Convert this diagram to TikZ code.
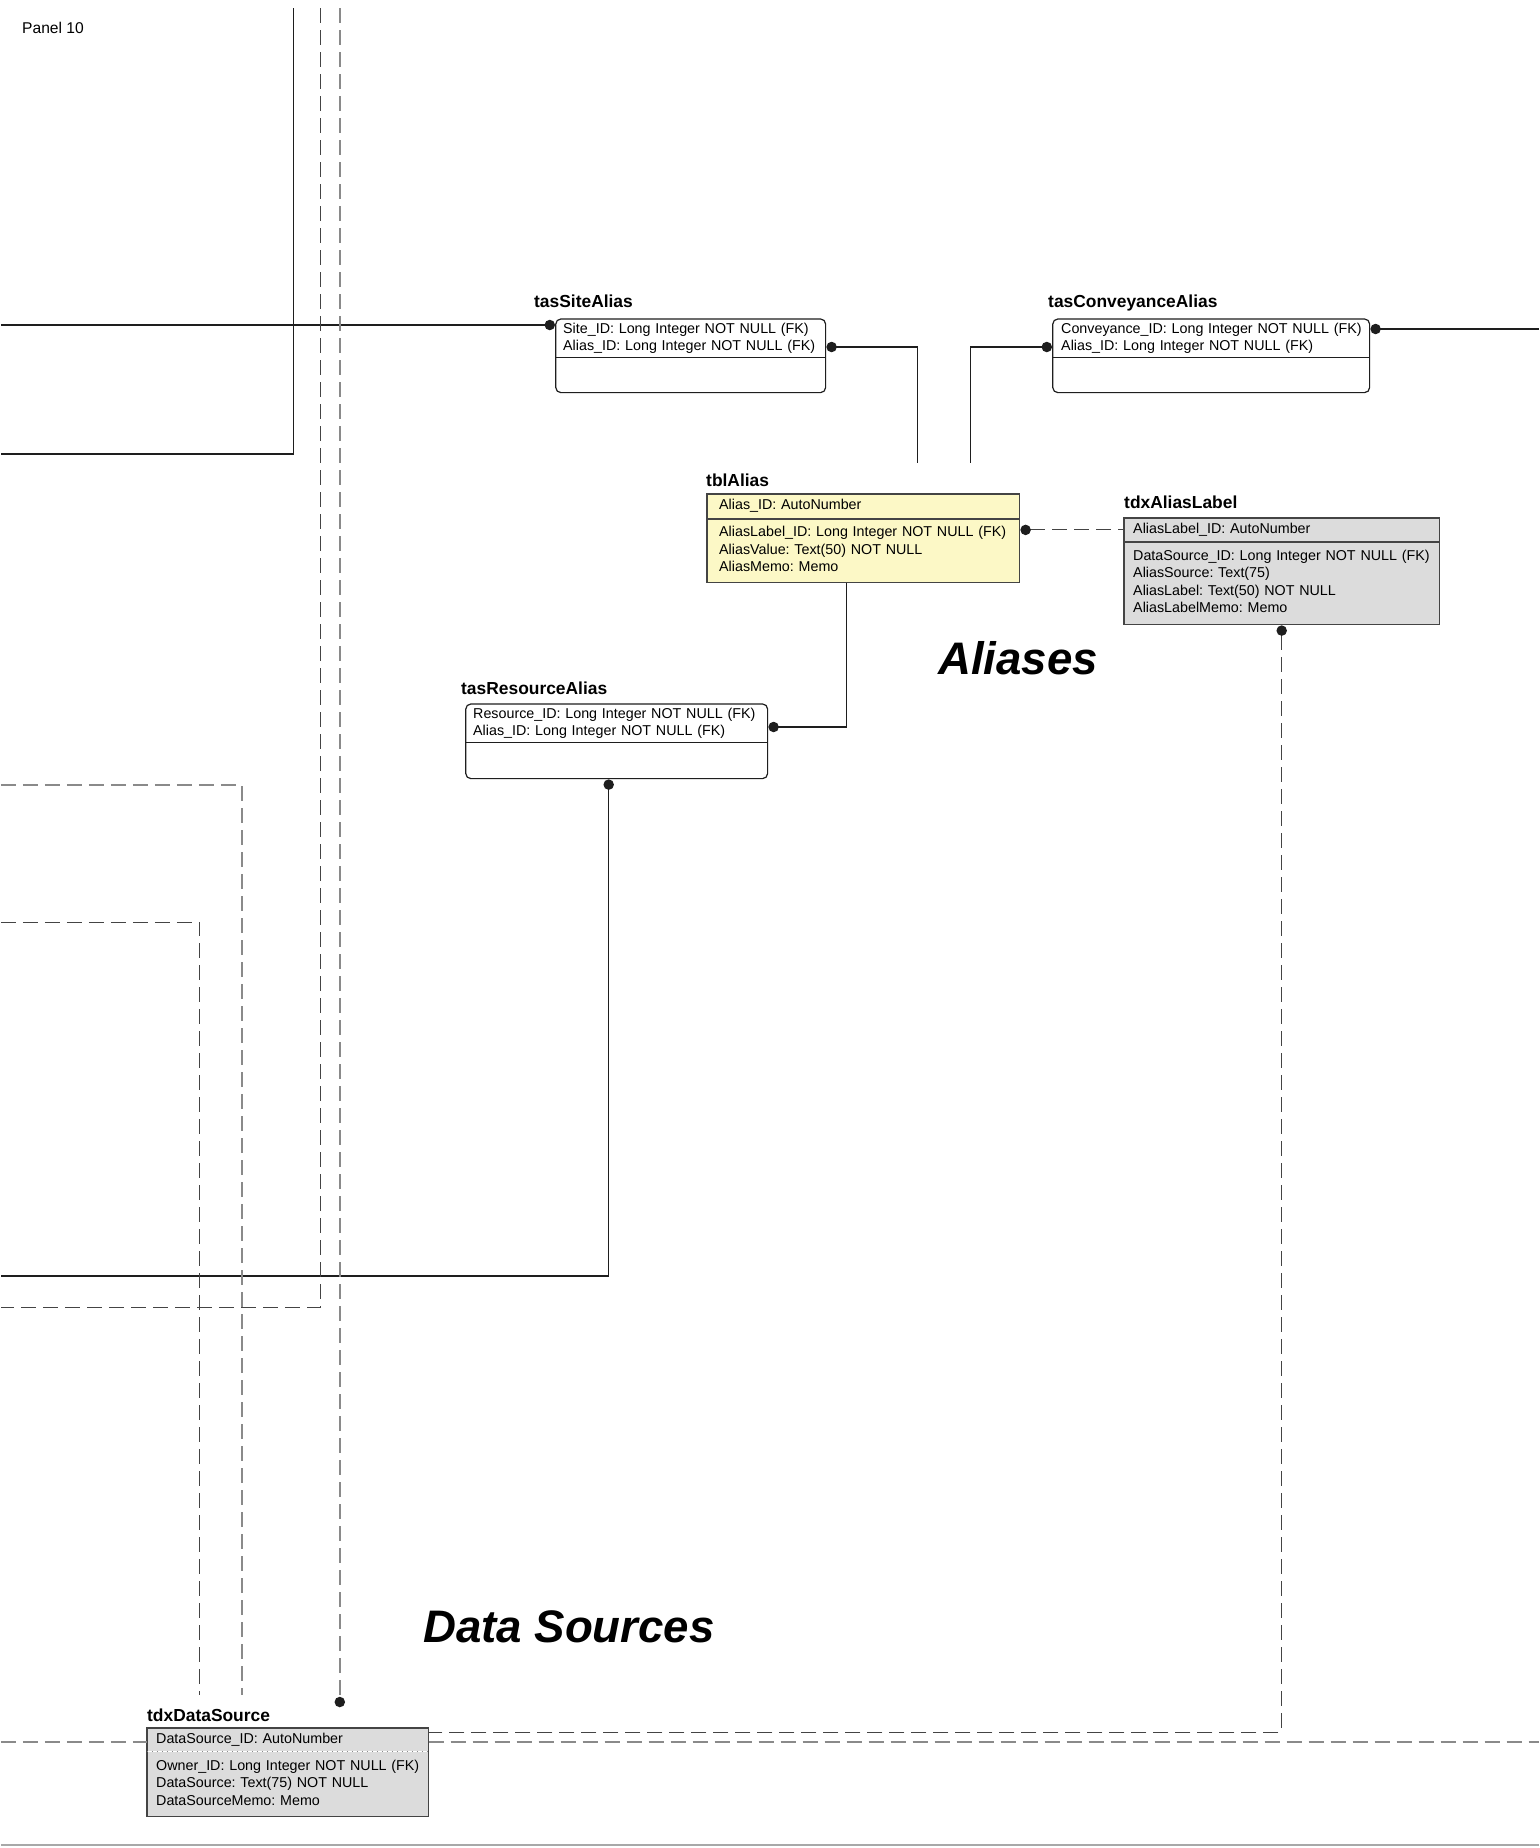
\documentclass[tikz,border=0pt]{standalone}
\usepackage{fontspec}
\setmainfont{Liberation Sans}
\usepackage{xcolor}
\definecolor{lineblack}{HTML}{1E1E1E}
\definecolor{dashdark}{HTML}{444444}
\definecolor{dashgray}{HTML}{8A8A8A}
\definecolor{rulegray}{HTML}{A8A8A8}
\definecolor{tblyellow}{HTML}{FCF8C6}
\definecolor{tdxgray}{HTML}{DCDCDC}
\usetikzlibrary{arrows.meta,positioning}
\frenchspacing
\newcommand{\fieldfont}{\fontsize{7.15}{8.75}\selectfont}
\newcommand{\titlefont}{\fontsize{8.7}{10}\selectfont\bfseries}
\newcommand{\panelfont}{\fontsize{7.8}{9}\selectfont}
\newcommand{\areafont}{\fontsize{22.8}{27}\selectfont\bfseries\itshape}
\newcommand{\fieldrows}[1]{\begin{tabular}{@{}l@{}}#1\end{tabular}}

\begin{document}
\begin{tikzpicture}[x=0.5pt, y=-0.5pt,
    field/.style={font=\fieldfont, inner ysep=0pt, inner xsep=3.5pt, anchor=north west},
    tbl/.style={fill=tblyellow, inner xsep=6pt},
    tdx/.style={fill=tdxgray, inner xsep=4.5pt},
    title/.style={font=\titlefont, anchor=base west, inner sep=0pt},
    tasline/.style={draw=lineblack, line width=0.6pt},
    boxline/.style={draw=dashdark, line width=0.7pt},
    conn/.style={draw=lineblack, line width=0.6pt},
    darkdash/.style={draw=dashdark, line width=0.5pt, dash pattern=on 7.5pt off 3.5pt},
    graydash/.style={draw=dashgray, line width=0.75pt, dash pattern=on 7.5pt off 3.5pt},
    dotend/.style={-{Circle[length=5.2pt,color=lineblack]}, shorten >=0.4pt},
    dotstart/.style={{Circle[length=5.2pt,color=lineblack]}-, shorten <=0.4pt}]
  \fill[white] (0,0) rectangle (1538,1848);
  \node[font=\panelfont, anchor=base west, inner sep=0pt] (panel) at (21,33) {Panel 10};

  % tasSiteAlias
  \node[title] (sitetitle) at (533,307) {tasSiteAlias};
  \node[field, text width=127.5pt, minimum height=19pt] (sitekey) at (555,319)
    {\fieldrows{Site\_ID: Long Integer NOT NULL (FK)\\Alias\_ID: Long Integer NOT NULL (FK)}};
  \node[field, text width=127.5pt, minimum height=17pt, below=0pt of sitekey] (sitebody) {};
  \draw[tasline, rounded corners=2.5pt] (sitekey.north west) rectangle (sitebody.south east);
  \draw[tasline] (sitekey.south west) -- (sitekey.south east);

  % tasConveyanceAlias
  \node[title] (convtitle) at (1047,307) {tasConveyanceAlias};
  \node[field, inner xsep=4pt, text width=150pt, minimum height=19pt] (convkey) at (1052,319)
    {\fieldrows{Conveyance\_ID: Long Integer NOT NULL (FK)\\Alias\_ID: Long Integer NOT NULL (FK)}};
  \node[field, inner xsep=4pt, text width=150pt, minimum height=17pt, below=0pt of convkey] (convbody) {};
  \draw[tasline, rounded corners=2.5pt] (convkey.north west) rectangle (convbody.south east);
  \draw[tasline] (convkey.south west) -- (convkey.south east);

  % tblAlias
  \node[title] (aliastitle) at (705,486) {tblAlias};
  \node[field, tbl, text width=144pt, minimum height=12pt] (aliaskey) at (706,494)
    {\fieldrows{Alias\_ID: AutoNumber}};
  \node[field, tbl, text width=144pt, minimum height=31.5pt, below=0pt of aliaskey] (aliasbody)
    {\fieldrows{AliasLabel\_ID: Long Integer NOT NULL (FK)\\AliasValue: Text(50) NOT NULL\\AliasMemo: Memo}};
  \draw[boxline] (aliaskey.north west) rectangle (aliasbody.south east);
  \draw[boxline] (aliaskey.south west) -- (aliaskey.south east);

  % tdxAliasLabel
  \node[title] (labeltitle) at (1123,508) {tdxAliasLabel};
  \node[field, tdx, text width=148.5pt, minimum height=11.5pt] (labelkey) at (1123,518)
    {\fieldrows{AliasLabel\_ID: AutoNumber}};
  \node[field, tdx, text width=148.5pt, minimum height=41pt, below=0pt of labelkey] (labelbody)
    {\fieldrows{DataSource\_ID: Long Integer NOT NULL (FK)\\AliasSource: Text(75)\\AliasLabel: Text(50) NOT NULL\\AliasLabelMemo: Memo}};
  \draw[boxline] (labelkey.north west) rectangle (labelbody.south east);
  \draw[boxline] (labelkey.south west) -- (labelkey.south east);

  % tasResourceAlias
  \node[title] (restitle) at (460,694) {tasResourceAlias};
  \node[field, text width=143.5pt, minimum height=19pt] (reskey) at (465,704)
    {\fieldrows{Resource\_ID: Long Integer NOT NULL (FK)\\Alias\_ID: Long Integer NOT NULL (FK)}};
  \node[field, text width=143.5pt, minimum height=17.5pt, below=0pt of reskey] (resbody) {};
  \draw[tasline, rounded corners=2.5pt] (reskey.north west) rectangle (resbody.south east);
  \draw[tasline] (reskey.south west) -- (reskey.south east);

  % tdxDataSource
  \node[title] (srctitle) at (146,1721) {tdxDataSource};
  \node[field, tdx, text width=131.5pt, minimum height=11.5pt] (srckey) at (146,1728)
    {\fieldrows{DataSource\_ID: AutoNumber}};
  \node[field, tdx, text width=131.5pt, minimum height=32pt, below=0pt of srckey] (srcbody)
    {\fieldrows{Owner\_ID: Long Integer NOT NULL (FK)\\DataSource: Text(75) NOT NULL\\DataSourceMemo: Memo}};
  \draw[boxline] (srckey.north west) rectangle (srcbody.south east);
  \draw[dashgray, line width=0.5pt, dotted] (srckey.south west) -- (srckey.south east);

  % area headings
  \node[font=\areafont, anchor=base west, inner sep=0pt] (aliases) at (937,674) {Aliases};
  \node[font=\areafont, anchor=base west, inner sep=0pt] (datasources) at (422,1642) {Data Sources};

  % ends at the panel edges
  \coordinate (topA) at (293,8);
  \coordinate (topB) at (320,8);
  \coordinate (topC) at (339,8);
  \coordinate (leftA) at (0,454);
  \coordinate (leftB) at (0,325);
  \coordinate (leftC) at (0,785);
  \coordinate (leftD) at (0,922);
  \coordinate (leftE) at (0,1276);
  \coordinate (leftF) at (0,1307);
  \coordinate (leftG) at (0,1742);
  \coordinate (rightA) at (1538,329);
  \coordinate (rightB) at (1538,1742);

  % relationships
  \draw[conn] (topA) |- (leftA);
  \draw[conn, dotend] (leftB) -- ([yshift=-3pt]sitekey.north west);
  \draw[conn, dotstart] ([yshift=-14pt]sitekey.north east) -| ([xshift=105.5pt,yshift=15.5pt]aliaskey.north west);
  \draw[conn, dotstart] ([yshift=-14pt]convkey.north west) -| ([xshift=132pt,yshift=15.5pt]aliaskey.north west);
  \draw[conn, dotstart] ([yshift=-5pt]convkey.north east) -- (rightA);
  \draw[conn, dotend] ([xshift=-8.5pt]aliasbody.south) |- ([yshift=-11.5pt]reskey.north east);
  \draw[conn, dotstart] ([xshift=-4pt]resbody.south) |- (leftE);
  \draw[darkdash, dotstart] (aliasbody.east |- labelkey.west) -- (labelkey.west);
  \draw[darkdash, dotstart] (labelbody.south) |- ([yshift=-2pt]srckey.north east);
  \draw[graydash] (leftG) -- (srckey.west |- leftG);
  \draw[graydash] (srckey.east |- rightB) -- (rightB);
  \draw[darkdash] (topB) |- (leftF);
  \draw[graydash, dotend] (topC) -- ([xshift=96.5pt,yshift=10pt]srckey.north west);
  \draw[graydash] (leftC) -| ([xshift=47.5pt,yshift=16.5pt]srckey.north west);
  \draw[darkdash] (leftD) -| ([xshift=26.5pt,yshift=16.5pt]srckey.north west);

  \draw[rulegray, line width=0.8pt] (0,1845) -- (1538,1845);
\end{tikzpicture}
\end{document}
